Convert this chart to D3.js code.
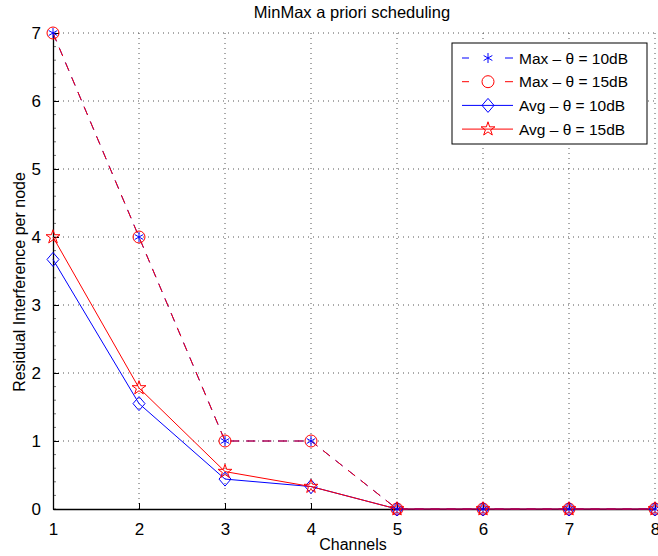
<!DOCTYPE html>
<html lang="en">
<head>
<meta charset="UTF-8">
<title>MinMax a priori scheduling</title>
<style>
  body { margin: 0; background: #fff; }
  svg { display: block; font-family: "Liberation Sans", Arial, sans-serif; }
  .grid line { stroke: #555; stroke-dasharray: 1 4; stroke-width: 1; }
  .axis path, .axis line { stroke: #000; }
  .axis text { font-size: 17px; fill: #000; }
</style>
</head>
<body>
<svg id="chart" width="658" height="556"></svg>
<script src="https://d3js.org/d3.v7.min.js"></script>
<script>
// data
const channels = [1, 2, 3, 4, 5, 6, 7, 8];
const max10 = [7, 4, 1, 1, 0, 0, 0, 0];
const max15 = [7, 4, 1, 1, 0, 0, 0, 0];
const avg10 = [3.67, 1.55, 0.44, 0.33, 0, 0, 0, 0];
const avg15 = [4.0, 1.78, 0.55, 0.33, 0, 0, 0, 0];
const xTicks = [1, 2, 3, 4, 5, 6, 7, 8];
const yTicks = [0, 1, 2, 3, 4, 5, 6, 7];
const seriesNames = ["Max \u2013 \u03b8 = 10dB", "Max \u2013 \u03b8 = 15dB", "Avg \u2013 \u03b8 = 10dB", "Avg \u2013 \u03b8 = 15dB"];

const svg = d3.select("#chart");
const plotL = 53, plotR = 655, plotT = 33, plotB = 509;

const x = d3.scaleLinear().domain([1, 8]).range([plotL, plotR]);
const y = d3.scaleLinear().domain([0, 7]).range([plotB, plotT]);

// grid
const grid = svg.append("g").attr("class", "grid");
grid.selectAll(".gx").data(xTicks.slice(1)).enter().append("line")
  .attr("x1", d => x(d)).attr("x2", d => x(d)).attr("y1", plotT).attr("y2", plotB);
grid.selectAll(".gy").data(yTicks.slice(1)).enter().append("line")
  .attr("x1", plotL).attr("x2", plotR).attr("y1", d => y(d)).attr("y2", d => y(d));

// minor ticks on y axis
svg.append("g").selectAll("line")
  .data(d3.range(0, 7.01, 0.2))
  .enter().append("line")
  .attr("x1", plotL).attr("x2", plotL + 3)
  .attr("y1", d => y(d)).attr("y2", d => y(d))
  .attr("stroke", "#777");

// axes
svg.append("g").attr("class", "axis")
  .attr("transform", `translate(0,${plotB})`)
  .call(d3.axisBottom(x).tickValues(xTicks).tickFormat(d3.format("d")).tickSizeInner(-6).tickSizeOuter(0).tickPadding(14))
  .call(g => g.select(".domain").attr("stroke-width", 1.3));

svg.append("g").attr("class", "axis")
  .attr("transform", `translate(${plotL},0)`)
  .call(d3.axisLeft(y).tickValues(yTicks).tickFormat(d3.format("d")).tickSizeInner(-6).tickSizeOuter(0).tickPadding(12))
  .call(g => g.select(".domain").attr("stroke-width", 1.3));

// lines
const line = d3.line().x((d, i) => x(channels[i])).y(d => y(d));

const styles = [
  { data: max10, color: "#0000ff", dash: "9 7", marker: "asterisk" },
  { data: max15, color: "#ff0000", dash: "9 7", marker: "circle" },
  { data: avg10, color: "#0000ff", dash: null, marker: "diamond" },
  { data: avg15, color: "#ff0000", dash: null, marker: "star" }
];

function drawMarker(g, type, color) {
  if (type === "asterisk") {
    const r = 5;
    [[0, r], [r * 0.87, r * 0.5], [r * 0.87, -r * 0.5]].forEach(([dx, dy]) => {
      g.append("line").attr("x1", -dx).attr("y1", -dy).attr("x2", dx).attr("y2", dy)
        .attr("stroke", color).attr("stroke-width", 1);
    });
  } else if (type === "circle") {
    g.append("circle").attr("r", 6).attr("fill", "none").attr("stroke", color).attr("stroke-width", 1);
  } else if (type === "diamond") {
    g.append("path").attr("d", "M0,-7L6,0L0,7L-6,0Z").attr("fill", "none").attr("stroke", color).attr("stroke-width", 1);
  } else if (type === "star") {
    g.append("path").attr("d", d3.symbol(d3.symbolStar, 60)()).attr("fill", "none").attr("stroke", color).attr("stroke-width", 1);
  }
}

styles.forEach(s => {
  svg.append("path")
    .attr("d", line(s.data))
    .attr("fill", "none")
    .attr("stroke", s.color)
    .attr("stroke-width", 1)
    .attr("stroke-dasharray", s.dash);
});

styles.forEach(s => {
  s.data.forEach((v, i) => {
    const g = svg.append("g").attr("transform", `translate(${x(channels[i])},${y(v)})`);
    drawMarker(g, s.marker, s.color);
  });
});

// title and labels
svg.append("text").attr("x", 352).attr("y", 18).attr("text-anchor", "middle")
  .attr("font-size", 16.5).text("MinMax a priori scheduling");
svg.append("text").attr("x", 353).attr("y", 550).attr("text-anchor", "middle")
  .attr("font-size", 16).text("Channels");
svg.append("text").attr("transform", "translate(25,282) rotate(-90)").attr("text-anchor", "middle")
  .attr("font-size", 16).text("Residual Interference per node");

// legend
const lg = svg.append("g").attr("transform", "translate(452,43)");
lg.append("rect").attr("width", 195).attr("height", 101).attr("fill", "#fff")
  .attr("stroke", "#000").attr("stroke-width", 1);
styles.forEach((s, i) => {
  const cy = 15 + i * 23.7;
  const row = lg.append("g").attr("transform", `translate(0,${cy})`);
  if (s.dash) {
    row.append("line").attr("x1", 10).attr("x2", 17).attr("y1", 0).attr("y2", 0).attr("stroke", s.color);
    row.append("line").attr("x1", 53).attr("x2", 61).attr("y1", 0).attr("y2", 0).attr("stroke", s.color);
  } else {
    row.append("line").attr("x1", 10).attr("x2", 61).attr("y1", 0).attr("y2", 0).attr("stroke", s.color);
  }
  const m = row.append("g").attr("transform", "translate(36,0)");
  drawMarker(m, s.marker, s.color);
  row.append("text").attr("x", 67).attr("y", 5.5).attr("font-size", 15.5).text(seriesNames[i]);
});
</script>
</body>
</html>
